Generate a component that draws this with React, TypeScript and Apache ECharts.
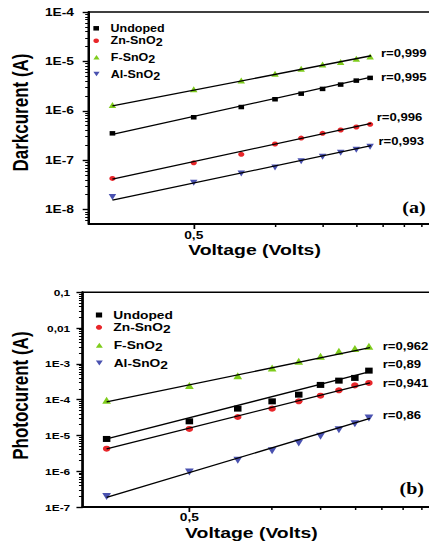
import React, { useEffect, useRef } from 'react';
import * as echarts from 'echarts';

// ---------------- data ----------------
const voltages = [0.25, 0.5, 0.75, 1.0, 1.25, 1.5, 1.75, 2.0, 2.25];
const fitVoltages = [0.25, 2.27];

const seriesNames = ['Undoped', 'Zn-SnO2', 'F-SnO2', 'Al-SnO2'];

// (a) dark current (A)
const darkUndoped = [3.49e-7, 7.38e-7, 1.19e-6, 1.71e-6, 2.22e-6, 2.77e-6, 3.39e-6, 4.08e-6, 4.63e-6];
const darkZn = [4.26e-8, 8.83e-8, 1.31e-7, 2.12e-7, 2.8e-7, 3.49e-7, 4.07e-7, 4.69e-7, 5.32e-7];
const darkF = [1.31e-6, 2.73e-6, 4.08e-6, 5.59e-6, 7.06e-6, 8.63e-6, 9.66e-6, 1.13e-5, 1.25e-5];
const darkAl = [1.8e-8, 3.47e-8, 5.38e-8, 7.13e-8, 9.44e-8, 1.17e-7, 1.41e-7, 1.62e-7, 1.87e-7];

const darkFitUndoped = [3.33e-7, 4.79e-6];
const darkFitZn = [4.12e-8, 5.57e-7];
const darkFitF = [1.25e-6, 1.3e-5];
const darkFitAl = [1.55e-8, 1.96e-7];

const darkR = ['r=0,995', 'r=0,996', 'r=0,999', 'r=0,993'];

// (b) photo current (A)
const photoUndoped = [7.97e-6, 2.48e-5, 5.61e-5, 8.97e-5, 1.38e-4, 2.58e-4, 3.4e-4, 4.05e-4, 6.47e-4];
const photoZn = [4.27e-6, 1.52e-5, 3.28e-5, 5.61e-5, 8.97e-5, 1.29e-4, 1.82e-4, 2.51e-4, 2.93e-4];
const photoF = [9.57e-5, 2.47e-4, 4.69e-4, 7.69e-4, 1.18e-3, 1.63e-3, 2.24e-3, 2.67e-3, 3.09e-3];
const photoAl = [1.98e-7, 9.52e-7, 2.01e-6, 3.75e-6, 6.17e-6, 9.42e-6, 1.45e-5, 2.13e-5, 3.08e-5];

const photoFitUndoped = [8.0e-6, 6.1e-4];
const photoFitZn = [4.2e-6, 2.95e-4];
const photoFitF = [8.7e-5, 2.85e-3];
const photoFitAl = [1.85e-7, 3.0e-5];

const photoR = ['r=0,89', 'r=0,941', 'r=0,962', 'r=0,86'];

// ticks
const xMajorTicks = [0.5];
const xMajorLabels = ['0,5'];
const xMinorTicks = [1, 1.5, 2, 2.5, 3, 3.5];
const darkTicks = [1e-8, 1e-7, 1e-6, 1e-5, 1e-4];
const darkTickLabels = ['1E-8', '1E-7', '1E-6', '1E-5', '1E-4'];
const photoTicks = [1e-7, 1e-6, 1e-5, 1e-4, 1e-3, 1e-2, 1e-1];
const photoTickLabels = ['1E-7', '1E-6', '1E-5', '1E-4', '1E-3', '0,01', '0,1'];
const minorMultipliers = [2, 3, 4, 5, 6, 7, 8, 9];

// ---------------- layout ----------------
const S = 1.25; // horizontal stretch of the reference picture
const u = (px: number) => px / S;
const W_U = 360;
const FONT = '"Liberation Sans", Arial, sans-serif';
const SERIF = '"Liberation Serif", "Times New Roman", serif';

const X_MIN = 0.2046;
const X_MAX = 4;
const GRID_LEFT = u(82.7);
const GRID_RIGHT = W_U - u(437.6);

const DARK_MIN = 5.09e-9;
const DARK_MAX = 1e-4;
const PHOTO_MIN = 0.99999e-7;
const PHOTO_MAX = 0.1000001;

const colors = ['#000000', '#e8262a', '#7fcc1c', '#4a52b0'];
const symbols = [
  'path://M0,0L10,0L10,10L0,10Z',
  'circle',
  'path://M5,0L10,9L0,9Z',
  'path://M0,0L10,0L5,9Z',
];
const SUB_PAD = 4;
const LEGEND_ICON_BOX = 13;

function minorTicks(decades: number[], lo: number, hi: number) {
  const out: number[] = [];
  const all = [decades[0] / 10, ...decades];
  all.forEach((d) => {
    minorMultipliers.forEach((k) => {
      const v = k * d;
      if (v >= lo && v <= hi) out.push(v);
    });
  });
  return out;
}

function labelFor(vals: number[], labels: string[]) {
  return (v: number) => {
    const i = vals.findIndex((t) => Math.abs(Math.log10(t) - Math.log10(v)) < 1e-4);
    return i >= 0 ? labels[i] : '';
  };
}

function xAxes(gridIndex: number, labelMargin: number, nameGap: number) {
  return [
    {
      type: 'log',
      gridIndex,
      min: X_MIN,
      max: X_MAX,
      position: 'bottom',
      axisLine: { show: true, onZero: false, lineStyle: { color: '#000', width: 2 } },
      axisTick: { show: true, customValues: xMajorTicks, length: 5, lineStyle: { color: '#000', width: 1.4 } },
      axisLabel: {
        show: true,
        customValues: xMajorTicks,
        formatter: labelFor(xMajorTicks, xMajorLabels),
        fontSize: 11,
        fontWeight: 'bold',
        fontFamily: FONT,
        color: '#000',
        margin: labelMargin,
      },
      splitLine: { show: false },
      name: 'Voltage (Volts)',
      nameLocation: 'middle',
      nameGap,
      nameTextStyle: {
        fontSize: 15.5,
        fontWeight: 'bold',
        fontFamily: FONT,
        color: '#000',
        padding: [0, 14, 0, 0],
      },
    },
    {
      type: 'log',
      gridIndex,
      min: X_MIN,
      max: X_MAX,
      position: 'bottom',
      axisLine: { show: false },
      axisTick: { show: true, customValues: xMinorTicks, length: 3, lineStyle: { color: '#000', width: 1.2 } },
      axisLabel: { show: false },
      splitLine: { show: false },
    },
  ];
}

function yAxes(
  gridIndex: number,
  min: number,
  max: number,
  ticks: number[],
  labels: string[],
  name: string,
  labelSize: number,
  labelMargin: number,
  namePad: number
) {
  return [
    {
      type: 'log',
      gridIndex,
      min,
      max,
      position: 'left',
      axisLine: { show: true, onZero: false, lineStyle: { color: '#000', width: 2 } },
      axisTick: { show: true, customValues: ticks, length: 5, lineStyle: { color: '#000', width: 1.4 } },
      axisLabel: {
        show: true,
        customValues: ticks,
        formatter: labelFor(ticks, labels),
        fontSize: labelSize,
        fontWeight: 'bold',
        fontFamily: FONT,
        color: '#000',
        margin: labelMargin,
      },
      splitLine: { show: false },
      name,
      nameLocation: 'middle',
      nameGap: 40,
      nameTextStyle: {
        fontSize: 17,
        fontWeight: 'bold',
        fontFamily: FONT,
        color: '#000',
        padding: [0, 0, 0, namePad],
      },
    },
    {
      type: 'log',
      gridIndex,
      min,
      max,
      position: 'left',
      axisLine: { show: false },
      axisTick: { show: true, customValues: minorTicks(ticks, min, max), length: 3, lineStyle: { color: '#000', width: 1 } },
      axisLabel: { show: false },
      splitLine: { show: false },
    },
  ];
}

function panelSeries(axisIndex: number, values: number[][], fits: number[][], sizes: number[]) {
  const scatter = values.map((arr, i) => ({
    type: 'scatter',
    name: seriesNames[i],
    xAxisIndex: axisIndex,
    yAxisIndex: axisIndex,
    data: voltages.map((v, j) => [v, arr[j]]),
    symbol: symbols[i],
    symbolSize: sizes[i],
    itemStyle: { color: colors[i], opacity: 1 },
    z: 3,
    silent: true,
  }));
  const lines = fits.map((arr, i) => ({
    type: 'line',
    name: seriesNames[i] + ' fit ' + axisIndex,
    xAxisIndex: axisIndex,
    yAxisIndex: axisIndex,
    data: fitVoltages.map((v, j) => [v, arr[j]]),
    symbol: 'none',
    lineStyle: { color: '#000', width: 1.3 },
    z: 4,
    silent: true,
  }));
  return [...scatter, ...lines];
}

// one legend component per row, so each row sits exactly where it is in the picture
function legendRows(centerXReal: number, centersY: number[], size: number, fontSize: number) {
  return seriesNames.map((name, i) => {
    const hasSub = /2$/.test(name);
    const h = fontSize + (hasSub ? SUB_PAD : 0);
    return {
      orient: 'vertical',
      left: u(centerXReal) - LEGEND_ICON_BOX / 2,
      top: centersY[i] - h / 2,
      data: [name],
      itemWidth: LEGEND_ICON_BOX,
      itemHeight: size,
      itemGap: 0,
      padding: 0,
      selectedMode: false,
      formatter: (n: string) => n.replace(/2$/, '{s|2}'),
      textStyle: {
        fontSize,
        fontWeight: 'bold',
        fontFamily: FONT,
        color: '#000',
        rich: {
          s: { fontSize, fontWeight: 'bold', fontFamily: FONT, color: '#000', padding: [SUB_PAD, 0, 0, 0] },
        },
      },
    };
  });
}

function rText(text: string, xReal: number, y: number) {
  return {
    type: 'text',
    x: u(xReal),
    y,
    silent: true,
    style: {
      text,
      fontSize: 10.5,
      fontWeight: 'bold',
      fontFamily: FONT,
      fill: '#000',
      align: 'left',
      verticalAlign: 'middle',
    },
  };
}

function panelTag(text: string, xReal: number, y: number) {
  return {
    type: 'text',
    x: u(xReal),
    y,
    silent: true,
    style: {
      text,
      fontSize: 16,
      fontWeight: 'bold',
      fontFamily: SERIF,
      fill: '#000',
      align: 'center',
      verticalAlign: 'middle',
    },
  };
}

export default function App() {
  const ref = useRef<HTMLDivElement>(null);

  useEffect(() => {
    if (!ref.current) return;
    const chart = echarts.init(ref.current, null, { renderer: 'svg' });
    const option = {
      animation: false,
      backgroundColor: '#ffffff',
      grid: [
        { left: GRID_LEFT, right: GRID_RIGHT, top: 12, height: 212, show: true, borderColor: '#000', borderWidth: 1.5, backgroundColor: 'transparent' },
        { left: GRID_LEFT, right: GRID_RIGHT, top: 292.3, height: 214.7, show: true, borderColor: '#000', borderWidth: 1.5, backgroundColor: 'transparent' },
      ],
      xAxis: [...xAxes(0, 6, 17), ...xAxes(1, 5, 18)],
      yAxis: [
        ...yAxes(0, DARK_MIN, DARK_MAX, darkTicks, darkTickLabels, 'Darkcurent (A)', 11, 12, 11),
        ...yAxes(1, PHOTO_MIN, PHOTO_MAX, photoTicks, photoTickLabels, 'Photocurent (A)', 9.5, 10, 8),
      ],
      legend: [
        ...legendRows(101.5, [28.3, 42.7, 59.3, 76], 4.5, 10),
        ...legendRows(104, [315, 329.3, 347.3, 365], 5, 11),
      ],
      series: [
        ...panelSeries(0, [darkUndoped, darkZn, darkF, darkAl], [darkFitUndoped, darkFitZn, darkFitF, darkFitAl], [4.5, 5, 6, 6]),
        ...panelSeries(2, [photoUndoped, photoZn, photoF, photoAl], [photoFitUndoped, photoFitZn, photoFitF, photoFitAl], [6, 6, 7, 7]),
      ],
      graphic: [
        rText(darkR[2], 381, 53.3),
        rText(darkR[0], 381, 77),
        rText(darkR[1], 376.7, 117.5),
        rText(darkR[3], 378.5, 141.5),
        rText(photoR[2], 382.7, 346.7),
        rText(photoR[0], 382.7, 364.3),
        rText(photoR[1], 382.7, 383.3),
        rText(photoR[3], 382.7, 415),
        panelTag('(a)', 414, 207.5),
        panelTag('(b)', 411.7, 488.3),
      ],
    };
    chart.setOption(option as any);
    return () => chart.dispose();
  }, []);

  return (
    <div
      style={{
        position: 'fixed',
        left: 0,
        top: 0,
        width: 429,
        height: 543,
        overflow: 'hidden',
        background: '#fff',
      }}
    >
      <div
        ref={ref}
        style={{
          width: W_U,
          height: 543,
          transform: `scaleX(${S})`,
          transformOrigin: '0 0',
        }}
      />
    </div>
  );
}
